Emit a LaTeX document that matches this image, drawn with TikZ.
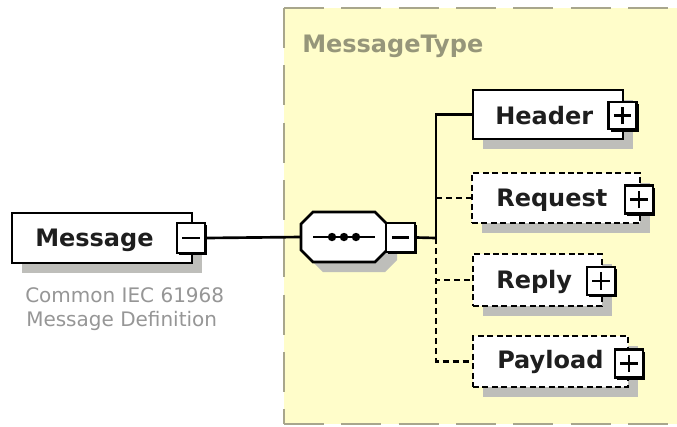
\documentclass[tikz,border=0pt]{standalone}
\usepackage{fontspec}
\setmainfont{DejaVu Sans}
\usetikzlibrary{shadows}
\definecolor{panelyellow}{RGB}{255,253,202}
\definecolor{panelborder}{RGB}{168,166,140}
\definecolor{typetext}{RGB}{150,150,122}
\definecolor{captiongray}{RGB}{150,150,150}
\definecolor{shadowgray}{RGB}{190,190,186}
\definecolor{inktext}{RGB}{30,30,30}
\tikzset{
  elem/.style={draw=black, line width=2pt, fill=white, inner sep=0pt,
    drop shadow={shadow xshift=7.5pt, shadow yshift=-7.5pt, fill=shadowgray, opacity=1}},
  optelem/.style={elem, dash pattern=on 4.5pt off 2.6pt},
  lbl/.style={anchor=base west, inner sep=0pt, text=inktext, font=\fontsize{18}{20}\selectfont\bfseries},
  pmbox/.style={draw=black, line width=1.6pt, fill=white, inner sep=0pt,
    minimum width=21pt, minimum height=21pt,
    drop shadow={shadow xshift=1.8pt, shadow yshift=-1.8pt, fill=black, opacity=1}},
  plusbox/.style={pmbox, path picture={
    \draw[line width=2pt] ([xshift=-6.5pt]path picture bounding box.center) -- ([xshift=6.5pt]path picture bounding box.center);
    \draw[line width=2pt] ([yshift=-6.5pt]path picture bounding box.center) -- ([yshift=6.5pt]path picture bounding box.center);}},
  minusbox/.style={pmbox, path picture={
    \draw[line width=2pt] ([xshift=-6.5pt]path picture bounding box.center) -- ([xshift=6.5pt]path picture bounding box.center);}},
  conn/.style={draw=black, line width=2pt},
  optconn/.style={conn, dash pattern=on 4.5pt off 3pt},
  panelline/.style={draw=panelborder, line width=1.8pt, dash pattern=on 30pt off 13pt}
}
\begin{document}
\begin{tikzpicture}[x=0.75pt, y=-0.75pt]
\useasboundingbox (0,0) rectangle (677,426);
\fill[white] (0,0) rectangle (677,426);
% panel
\fill[panelyellow] (284,8) rectangle (700,424);
\draw[panelline] (284,8) -- (690,8);
\draw[panelline] (284,8) -- (284,424);
\draw[panelline] (284,424) -- (690,424);
\node[anchor=base west, inner sep=0pt, text=typetext, font=\fontsize{18}{20}\selectfont\bfseries] (typename) at (302,52) {MessageType};

% Message element
\node[elem, minimum width=135pt, minimum height=37.5pt] (msg) at (102,238) {};
\node[lbl] (msgT) at (35,246) {Message};
\node[minusbox, minimum width=21pt, minimum height=22.5pt] (msgM) at (191,238) {};
\node[anchor=base west, inner sep=0pt, text=captiongray, font=\fontsize{15}{18}\selectfont] (cap1) at (25,302) {Common IEC 61968};
\node[anchor=base west, inner sep=0pt, text=captiongray, font=\fontsize{15}{18}\selectfont] (cap2) at (26,326) {Message Definition};

% sequence compositor
\fill[shadowgray] (323,222) -- (385,222) -- (397,234) -- (397,260) -- (385,272) -- (323,272) -- (311,260) -- (311,234) -- cycle;
\draw[line width=2pt, fill=white] (313,212) -- (375,212) -- (387,224) -- (387,250) -- (375,262) -- (313,262) -- (301,250) -- (301,224) -- cycle;
\node[inner sep=0pt, minimum width=64.5pt, minimum height=37.5pt] (seq) at (344,237) {};
\node[minusbox, minimum width=21.75pt, minimum height=21.75pt] (seqM) at (400.5,237.5) {};
\draw[line width=1.5pt] (313,237) -- (375,237);
\foreach \dx in {332,344,356} \fill (\dx,237) circle (4.2);

% children
\node[elem, minimum width=112.5pt, minimum height=36.75pt] (header) at (548,114.5) {};
\node[lbl] (headerT) at (495,124) {Header};
\node[plusbox, minimum width=21pt, minimum height=20.5pt] (headerP) at (622.5,115.5) {};

\node[optelem, minimum width=126pt, minimum height=37.5pt] (request) at (556,198) {};
\node[lbl] (requestT) at (496,206) {Request};
\node[plusbox] (requestP) at (639,199.5) {};

\node[optelem, minimum width=96.75pt, minimum height=39pt] (reply) at (537.5,280) {};
\node[lbl] (replyT) at (496,288) {Reply};
\node[plusbox] (replyP) at (601,281) {};

\node[optelem, minimum width=116.25pt, minimum height=38.25pt] (payload) at (550.5,361.5) {};
\node[lbl] (payloadT) at (497,368) {Payload};
\node[plusbox] (payloadP) at (629,363.5) {};

% connectors
\coordinate (jn) at (436,238);
\draw[conn] (msgM.east) -- (seq.west);
\draw[conn] (seqM.east) -- (jn);
\draw[conn] (jn) |- (header.west);
\draw[optconn] (jn) |- (request.west);
\draw[optconn] (jn) |- (reply.west);
\draw[optconn] (jn) |- (payload.west);
\end{tikzpicture}
\end{document}
